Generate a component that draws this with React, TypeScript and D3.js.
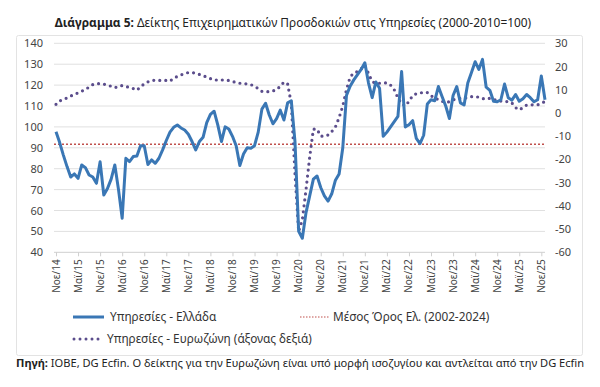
import { useEffect, useRef } from 'react';
import * as d3 from 'd3';

// Μηνιαίες τιμές, Νοε/14 έως Δεκ/25
const greece = [
  97.7, 92.5, 86.5, 81, 76, 77.5, 75.4, 81.8, 80.5, 77, 76, 73, 83.3, 67.4, 70.5, 75, 81.8, 70, 56.3, 85,
  83.4, 85.8, 86.1, 91, 91, 82, 84.2, 82.6, 85, 89, 93.5, 97.5, 99.8, 100.9, 99.5, 98.5, 96.5, 93, 89, 93,
  95, 102, 106, 107.5, 101, 93, 100, 99, 95.5, 91, 81.5, 87, 90, 89.8, 91, 97.5, 108.5, 111.3, 105.7, 101.5,
  104, 108, 103.3, 111.5, 112.5, 93, 50, 46.7, 59, 67, 75, 76.5, 71, 67, 64.5, 68, 74.5, 77.5, 90, 115,
  119.5, 122.5, 125, 127.5, 130.7, 121, 114, 121.5, 118.5, 95.5, 97.5, 100, 102.5, 105, 126.5, 100, 101, 103, 94.5, 92,
  96, 111, 113, 112.5, 119.3, 114.5, 110, 104, 115, 119.3, 111.5, 110.5, 121, 126, 131.2, 127.5, 132.3, 119, 117.5, 112.3,
  112, 113, 120.5, 114, 112.8, 115.5, 112.3, 113.5, 115.5, 114, 112, 113, 124.4, 113,
];

const eurozone = [
  3.7, 5.2, 5.8, 6.5, 7.3, 7.9, 8.7, 9.4, 10, 11.2, 12.2, 12.6, 12.6, 12.4, 12, 11.5, 10.9, 11.3, 11.8, 11.4,
  11, 10.5, 9.8, 11.3, 12.5, 13.4, 14, 14.1, 14, 14, 14, 13.7, 15, 15.7, 16.4, 17, 17.4, 17.4, 17.1, 16.6,
  16, 15.5, 14.8, 14.2, 14.2, 14.2, 14.2, 14, 13.6, 13.1, 12.8, 12.6, 12.5, 12.2, 11.5, 10.5, 9.3, 9.1, 9.2, 9.5,
  10, 11.5, 13.3, 12.5, 4, -26, -51, -46, -33, -19, -7, -7, -10, -10, -9.5, -8, -6, -2, 3, 10,
  15.5, 17.3, 17.8, 19, 20.5, 17, 13.5, 12.8, 12.8, 12.8, 13, 12, 10, 6.5, 4, 3, 5, 7.5, 8.3, 8.5,
  9, 8.8, 7.5, 6.3, 5.8, 5, 4.6, 4.8, 5.6, 6.2, 6.3, 6.3, 6.7, 7, 7, 6.8, 6.2, 6, 6.3, 5.7,
  5.6, 5.1, 4.9, 4.9, 4.3, 2.3, 1.3, 2.3, 3.4, 3.5, 3.5, 3.5, 4.2, 4.9,
];

const greekAverage = 91.7;

const tickLabels = [
  'Νοε/14', 'Μαϊ/15', 'Νοε/15', 'Μαϊ/16', 'Νοε/16', 'Μαϊ/17', 'Νοε/17', 'Μαϊ/18', 'Νοε/18', 'Μαϊ/19', 'Νοε/19', 'Μαϊ/20',
  'Νοε/20', 'Μαϊ/21', 'Νοε/21', 'Μαϊ/22', 'Νοε/22', 'Μαϊ/23', 'Νοε/23', 'Μαϊ/24', 'Νοε/24', 'Μαϊ/25', 'Νοε/25',
];

const leftTicks = [40, 50, 60, 70, 80, 90, 100, 110, 120, 130, 140];
const rightTicks = [-60, -50, -40, -30, -20, -10, 0, 10, 20, 30];

const FONT = "'Noto Sans', sans-serif";

export default function App() {
  const ref = useRef<SVGSVGElement>(null);

  useEffect(() => {
    if (!ref.current) return;
    const svg = d3.select(ref.current);
    svg.selectAll('*').remove();

    const x = d3.scaleLinear().domain([0, greece.length - 1]).range([56, 545]);
    const yL = d3.scaleLinear().domain([40, 140]).range([252.3, 43.3]);
    const yR = d3.scaleLinear().domain([-60, 30]).range([252.3, 43.3]);

    // πλαίσιο
    svg.append('rect')
      .attr('x', 16.5).attr('y', 35.5).attr('width', 566).attr('height', 320)
      .attr('fill', 'white').attr('stroke', '#e3e3e3').attr('rx', 2);

    // τίτλος
    const title = svg.append('text')
      .attr('x', 293).attr('y', 27).attr('text-anchor', 'middle')
      .attr('font-family', FONT).attr('font-size', 11.9).attr('fill', '#222');
    title.append('tspan').attr('font-weight', 'bold').text('Διάγραμμα 5:');
    title.append('tspan').text(' Δείκτης Επιχειρηματικών Προσδοκιών στις Υπηρεσίες (2000-2010=100)');

    // πλέγμα
    svg.append('g').selectAll('line').data(leftTicks.slice(1)).join('line')
      .attr('x1', 54).attr('x2', 545)
      .attr('y1', (d) => yL(d)).attr('y2', (d) => yL(d))
      .attr('stroke', '#e0e0e0').attr('stroke-width', 1);

    svg.append('g')
      .attr('transform', `translate(0,${yL(40)})`)
      .call(d3.axisBottom(x).tickValues(d3.range(0, greece.length, 6)).tickSize(4).tickFormat(() => ''))
      .call((g) => g.select('.domain').attr('stroke', '#cfcfcf').attr('d', `M54,0H545`))
      .call((g) => g.selectAll('.tick line').attr('stroke', '#cfcfcf'));

    svg.append('g').selectAll('text').data(tickLabels).join('text')
      .attr('transform', (_, i) => `translate(${x(i * 6) + 3.5},${yL(40) + 7}) rotate(-90)`)
      .attr('text-anchor', 'end')
      .attr('font-family', FONT).attr('font-size', 10).attr('fill', '#444')
      .text((d) => d);

    // άξονες y
    svg.append('g').selectAll('text').data(leftTicks).join('text')
      .attr('x', 43).attr('y', (d) => yL(d) + 4)
      .attr('text-anchor', 'end')
      .attr('font-family', FONT).attr('font-size', 11).attr('fill', '#444')
      .text((d) => d);

    svg.append('g').selectAll('text').data(rightTicks).join('text')
      .attr('x', 555).attr('y', (d) => yR(d) + 4)
      .attr('font-family', FONT).attr('font-size', 11).attr('fill', '#444')
      .text((d) => d);

    // μέσος όρος
    svg.append('line')
      .attr('x1', 54).attr('x2', 545)
      .attr('y1', yL(greekAverage)).attr('y2', yL(greekAverage))
      .attr('stroke', '#c0504d').attr('stroke-width', 1.3).attr('stroke-dasharray', '2 2');

    const ezLine = d3.line<number>().x((_, i) => x(i)).y((d) => yR(d));
    svg.append('path')
      .datum(eurozone)
      .attr('fill', 'none').attr('stroke', '#5b4d8c').attr('stroke-width', 3.2)
      .attr('stroke-linecap', 'round').attr('stroke-dasharray', '0 6')
      .attr('d', ezLine);

    const grLine = d3.line<number>().x((_, i) => x(i)).y((d) => yL(d));
    svg.append('path')
      .datum(greece)
      .attr('fill', 'none').attr('stroke', '#3a77b5').attr('stroke-width', 3)
      .attr('stroke-linejoin', 'round')
      .attr('d', grLine);

    // υπόμνημα
    const legend = svg.append('g').attr('font-family', FONT).attr('font-size', 11.8).attr('fill', '#333');
    legend.append('line').attr('x1', 73).attr('x2', 104).attr('y1', 317).attr('y2', 317)
      .attr('stroke', '#3a77b5').attr('stroke-width', 3);
    legend.append('text').attr('x', 110).attr('y', 321).text('Υπηρεσίες  - Ελλάδα');
    legend.append('line').attr('x1', 300).attr('x2', 330).attr('y1', 317).attr('y2', 317)
      .attr('stroke', '#c0504d').attr('stroke-width', 1.2).attr('stroke-dasharray', '1.5 1.5');
    legend.append('text').attr('x', 333).attr('y', 321).text('Μέσος Όρος Ελ. (2002-2024)');
    legend.append('line').attr('x1', 74).attr('x2', 100).attr('y1', 339).attr('y2', 339)
      .attr('stroke', '#5b4d8c').attr('stroke-width', 3).attr('stroke-linecap', 'round')
      .attr('stroke-dasharray', '0 6');
    legend.append('text').attr('x', 107).attr('y', 343).text('Υπηρεσίες - Ευρωζώνη (άξονας δεξιά)');

    // πηγή
    const source = svg.append('text')
      .attr('x', 16).attr('y', 367)
      .attr('font-family', FONT).attr('font-size', 11.1).attr('fill', '#222');
    source.append('tspan').attr('font-weight', 'bold').text('Πηγή:');
    source.append('tspan').text(' IOBE, DG Ecfin. Ο δείκτης για την Ευρωζώνη είναι υπό μορφή ισοζυγίου και αντλείται από την DG Ecfin');
  }, []);

  return (
    <svg
      ref={ref}
      width={600}
      height={387}
      style={{ position: 'absolute', left: 0, top: 0, background: 'white' }}
    />
  );
}
